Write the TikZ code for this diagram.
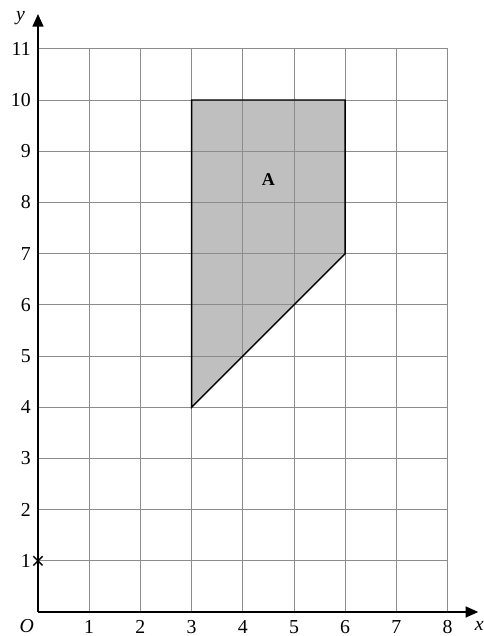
\documentclass[tikz,border=0pt]{standalone}
\usepackage{fontspec}
\setmainfont{Liberation Serif}
\usetikzlibrary{arrows.meta,positioning}

\begin{document}
\begin{tikzpicture}[
  gridline/.style={draw=black!45, line width=0.5pt},
  axis/.style={-{Triangle[length=7pt,width=6pt]}, line width=1pt},
  shapeA/.style={draw=black, line width=0.8pt, line join=miter},
  ticklabel/.style={font=\fontsize{11}{13}\selectfont, inner sep=1pt},
  axislabel/.style={font=\fontsize{11}{13}\selectfont\itshape, inner sep=1pt}
]
\useasboundingbox (-0.742,-0.469) rectangle (8.711,11.953);
% shaded shape (fill under the grid)
\fill[black!25] (3,4) -- (3,10) -- (6,10) -- (6,7) -- cycle;
% grid
\foreach \i in {1,...,8} \draw[gridline] (\i,0) -- (\i,11);
\foreach \j in {1,...,11} \draw[gridline] (0,\j) -- (8,\j);
\draw[shapeA] (3,4) -- (3,10) -- (6,10) -- (6,7) -- cycle;
\node[font=\bfseries] (labA) at (4.5,8.45) {A};
% axes
\coordinate (O) at (0,0);
\coordinate (xend) at (8.6,0);
\coordinate (yend) at (0,11.68);
\draw[axis] (O) -- (xend);
\draw[axis] (O) -- (yend);
\node[axislabel] (xlab) at (8.62,-0.28) {x};
\node[axislabel] (ylab) at (-0.34,11.6) {y};
\node[axislabel] (olab) at (-0.22,-0.28) {O};
% tick labels
\foreach \i in {1,...,8} \node[ticklabel] (xt\i) at (\i,-0.3) {\i};
\foreach \j in {1,...,11} \node[ticklabel, anchor=east] (yt\j) at (-0.1,\j) {\j};
% cross at (0,1)
\coordinate (pt) at (0,1);
\draw[line width=0.8pt] ([shift={(-0.09,-0.09)}]pt) -- ([shift={(0.09,0.09)}]pt)
  ([shift={(-0.09,0.09)}]pt) -- ([shift={(0.09,-0.09)}]pt);
\end{tikzpicture}
\end{document}
